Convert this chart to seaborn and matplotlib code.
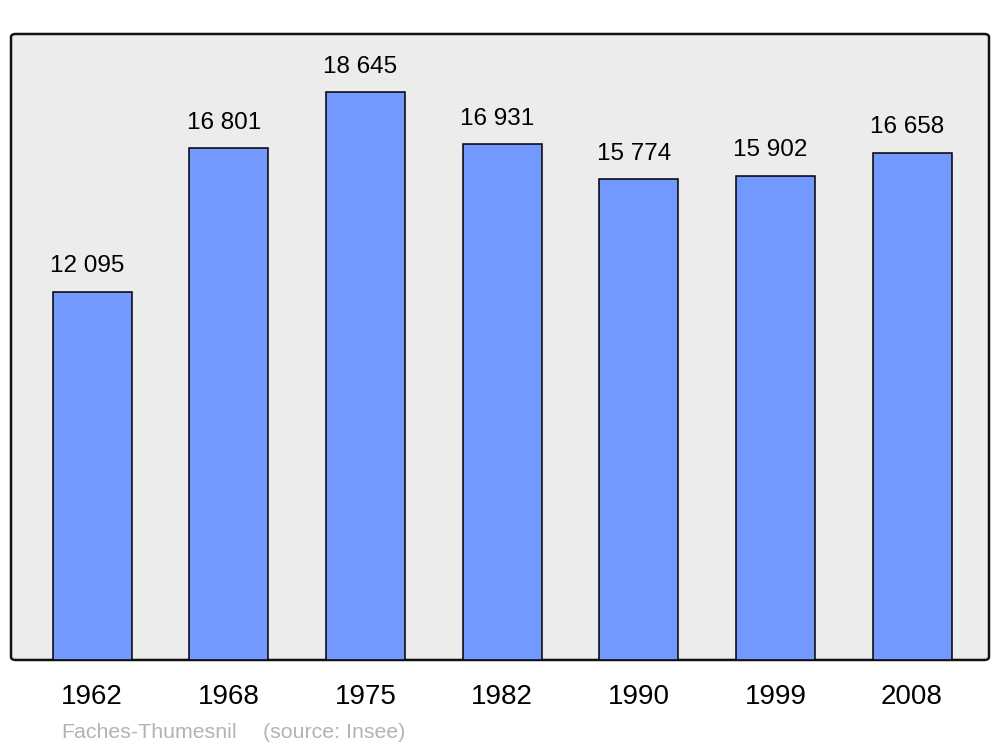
import numpy as np
import pandas as pd
import matplotlib
matplotlib.use("Agg")
import matplotlib.pyplot as plt
from matplotlib.patches import FancyBboxPatch
import seaborn as sns

years = ["1962", "1968", "1975", "1982", "1990", "1999", "2008"]
population = [12095, 16801, 18645, 16931, 15774, 15902, 16658]
town = "Faches-Thumesnil"
source = "(source: Insee)"

sns.set_theme(style="white")
plt.rcParams['font.family'] = ['Liberation Sans', 'DejaVu Sans']

df = pd.DataFrame({"year": years, "pop": population})

fig = plt.figure(figsize=(10, 7.47), dpi=100)
ax = fig.add_axes([0.011, 0.1165, 0.978, 0.838])
ax.set_facecolor("none")

# rounded frame behind the bars
frame = FancyBboxPatch((0, 0), 1, 1,
                       boxstyle="round,pad=0,rounding_size=0.005",
                       transform=ax.transAxes, facecolor="#ececec",
                       edgecolor="#111111", linewidth=1.8, zorder=0,
                       clip_on=False)
ax.add_patch(frame)

sns.barplot(data=df, x="year", y="pop", color="#7399ff", saturation=1,
            width=0.578, edgecolor="black", linewidth=1.1, ax=ax, zorder=2)

for i, v in enumerate(population):
    ax.annotate(f"{v:,}".replace(",", " "), (i, v), xytext=(-3.5, 14),
                textcoords="offset points", ha="center", va="baseline",
                fontsize=17.5, color="black")

ax.set_xlim(-0.593, 6.563)
ax.set_ylim(0, 20549)
ax.set_yticks([])
ax.set_xlabel("")
ax.set_ylabel("")
ax.tick_params(axis="x", length=0, labelsize=20, pad=17, colors="black")
for s in ax.spines.values():
    s.set_visible(False)

fig.text(0.061, 0.012, town, fontsize=15.4, color="#b3b3b3", ha="left", va="baseline")
fig.text(0.263, 0.012, source, fontsize=15.4, color="#b3b3b3", ha="left", va="baseline")

fig.savefig("out.png", dpi=100)
